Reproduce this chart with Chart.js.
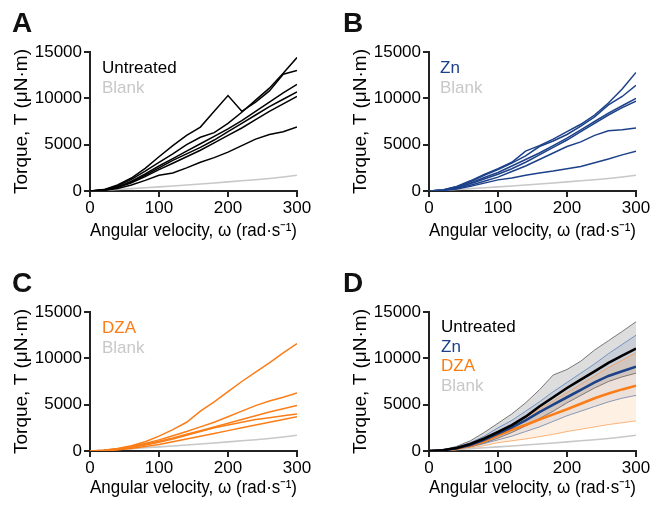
<!DOCTYPE html>
<html>
<head>
<meta charset="utf-8">
<script src="https://cdn.jsdelivr.net/npm/chart.js@4/dist/chart.umd.min.js"></script>
<style>
  body { margin: 0; background: #fff; }
  #wrap { position: relative; width: 652px; height: 510px; overflow: hidden; }
  canvas { position: absolute; }
  .pl { position: absolute; font: bold 28px/28px 'Liberation Sans', Arial, sans-serif; color: #111; }
  .lg { position: absolute; font: 17px/19.5px 'Liberation Sans', Arial, sans-serif; color: #000; }
  .bl { color: #c8c8c8; }
</style>
</head>
<body>
<div id="wrap">
  <canvas id="chartA" width="313" height="250" style="left:0;top:0"></canvas>
  <canvas id="chartB" width="313" height="250" style="left:339px;top:0"></canvas>
  <canvas id="chartC" width="313" height="250" style="left:0;top:260px"></canvas>
  <canvas id="chartD" width="313" height="250" style="left:339px;top:260px"></canvas>

  <div class="pl" style="left:12px;top:9px">A</div>
  <div class="pl" style="left:343px;top:9px">B</div>
  <div class="pl" style="left:12px;top:269px">C</div>
  <div class="pl" style="left:343px;top:269px">D</div>

  <div class="lg" style="left:102px;top:58px"><div>Untreated</div><div class="bl">Blank</div></div>
  <div class="lg" style="left:440px;top:58px"><div style="color:#1c4189">Zn</div><div class="bl">Blank</div></div>
  <div class="lg" style="left:102px;top:318px"><div style="color:#fb7d17">DZA</div><div class="bl">Blank</div></div>
  <div class="lg" style="left:441px;top:317px"><div>Untreated</div><div style="color:#1c4189">Zn</div><div style="color:#fb7d17">DZA</div><div class="bl">Blank</div></div>
</div>

<script>
// 角速度 (rad/s)
const omega = [0, 20, 40, 60, 80, 100, 120, 140, 160, 180, 200, 220, 240, 260, 280, 300];
const xTicks = [0, 100, 200, 300];
const yTicks = [0, 5000, 10000, 15000];

// ブランク
const blank = [0, 80, 170, 260, 350, 440, 540, 640, 750, 860, 980, 1100, 1220, 1350, 1510, 1700];

// A: 未処理
const untreatedRuns = [
    [0, 150, 650, 1400, 2450, 3700, 4900, 6000, 6900, 8600, 10300, 8600, 9600, 10800, 12600, 13000],
    [0, 120, 550, 1250, 2150, 3100, 4000, 5000, 5800, 6300, 7300, 8500, 9800, 11100, 12700, 14400],
    [0, 100, 450, 1050, 1850, 2700, 3500, 4300, 5100, 5900, 6700, 7600, 8600, 9600, 10600, 11500],
    [0, 90, 420, 950, 1700, 2500, 3300, 4000, 4700, 5500, 6400, 7300, 8200, 9100, 9900, 10700],
    [0, 80, 380, 880, 1550, 2300, 3000, 3700, 4400, 5200, 6000, 6800, 7700, 8600, 9400, 10200],
    [0, 60, 280, 650, 1150, 1700, 1950, 2500, 3100, 3600, 4200, 4900, 5600, 6100, 6400, 6900]
];

// B: Zn
const znRuns = [
    [0, 120, 500, 1100, 1800, 2400, 3100, 4300, 4900, 5600, 6400, 7200, 8200, 9500, 11000, 12800],
    [0, 110, 450, 1000, 1700, 2300, 3000, 3800, 4800, 5400, 6100, 7000, 8000, 9300, 10200, 11400],
    [0, 90, 380, 850, 1450, 2000, 2700, 3400, 4100, 4900, 5700, 6600, 7500, 8400, 9200, 10000],
    [0, 80, 340, 780, 1300, 1800, 2400, 3100, 3900, 4700, 5500, 6400, 7300, 8200, 9000, 9700],
    [0, 70, 280, 620, 1050, 1500, 2100, 2700, 3400, 4100, 4800, 5300, 6000, 6500, 6600, 6800],
    [0, 60, 220, 500, 850, 1200, 1400, 1700, 1950, 2150, 2400, 2650, 3050, 3450, 3900, 4300]
];

// C: DZA
const dzaRuns = [
    [0, 80, 260, 560, 1000, 1600, 2300, 3100, 4300, 5300, 6400, 7500, 8500, 9500, 10600, 11600],
    [0, 70, 230, 480, 800, 1200, 1650, 2100, 2600, 3100, 3700, 4300, 4900, 5400, 5800, 6250],
    [0, 60, 200, 420, 700, 1050, 1400, 1800, 2200, 2600, 3000, 3400, 3800, 4200, 4550, 4900],
    [0, 50, 180, 380, 650, 950, 1300, 1700, 2100, 2500, 2800, 3100, 3400, 3600, 3800, 4000],
    [0, 40, 130, 280, 480, 700, 1000, 1300, 1600, 1900, 2200, 2500, 2800, 3100, 3400, 3700]
];

// D: 平均値と範囲
const untreatedMean = [0, 80, 330, 750, 1350, 2050, 2800, 3700, 4800, 5800, 6800, 7700, 8600, 9500, 10300, 11050];
const untreatedHigh = [0, 120, 500, 1100, 2000, 3000, 4000, 5200, 6600, 8200, 8800, 9700, 10900, 11900, 12900, 13950];
const untreatedLow = [0, 50, 200, 450, 850, 1400, 2000, 2700, 3500, 4300, 5200, 6000, 6800, 7500, 8000, 8400];
const znMean = [0, 70, 290, 650, 1200, 1870, 2550, 3300, 4200, 5000, 5800, 6600, 7400, 8100, 8600, 9100];
const znHigh = [0, 90, 400, 900, 1600, 2500, 3300, 4300, 5300, 6400, 7400, 8400, 9400, 10500, 11500, 12500];
const znLow = [0, 50, 200, 450, 800, 1200, 1600, 2100, 2600, 3200, 3800, 4300, 4800, 5300, 5700, 6000];
const dzaMean = [0, 60, 250, 550, 1050, 1700, 2300, 2800, 3400, 3950, 4500, 5100, 5700, 6200, 6650, 7050];
const dzaHigh = [0, 80, 300, 700, 1300, 2000, 2800, 3600, 4500, 5400, 6300, 7200, 8100, 9000, 9800, 10600];
const dzaLow = [0, 40, 150, 330, 580, 900, 1100, 1300, 1550, 1800, 2100, 2350, 2600, 2850, 3050, 3250];

const BLACK = '#000000';
const NAVY = '#1c4189';
const ORANGE = '#fb7d17';
const GREY = '#c8c8c8';
const FONT = "'Liberation Sans', Arial, Helvetica, sans-serif";

Chart.defaults.font.family = FONT;
Chart.defaults.color = '#000';

function pts(ys) {
    return omega.map((x, i) => ({ x: x, y: ys[i] }));
}

function line(ys, color, width) {
    return { data: pts(ys), borderColor: color, borderWidth: width, fill: false };
}

function blankLine() {
    return line(blank, GREY, 1.6);
}

function makeChart(id, datasets, titlePad) {
    const axisGrid = { drawOnChartArea: false, drawTicks: true, tickLength: 6, color: '#222', lineWidth: 2 };
    new Chart(document.getElementById(id), {
        type: 'line',
        data: { datasets: datasets },
        options: {
            responsive: false,
            animation: false,
            layout: { padding: { top: 52, right: 16, left: 0, bottom: 0 } },
            plugins: { legend: { display: false }, tooltip: { enabled: false } },
            elements: { point: { radius: 0 }, line: { tension: 0 } },
            scales: {
                x: {
                    type: 'linear', min: 0, max: 300,
                    afterBuildTicks: s => { s.ticks = xTicks.map(v => ({ value: v })); },
                    afterFit: s => { s.height = 59; },
                    ticks: { color: '#000', font: { size: 17 }, padding: 1, maxRotation: 0, callback: v => String(v) },
                    grid: axisGrid,
                    border: { color: '#222', width: 2 },
                    title: { display: true, text: 'Angular velocity, \u03c9 (rad\u00b7s\u207b\u00b9)', color: '#000', font: { size: 19 }, padding: { top: 0, bottom: titlePad } }
                },
                y: {
                    min: 0, max: 15000,
                    afterBuildTicks: s => { s.ticks = yTicks.map(v => ({ value: v })); },
                    afterFit: s => { s.width = 90; },
                    ticks: { color: '#000', font: { size: 17 }, padding: 2, callback: v => String(v) },
                    grid: axisGrid,
                    border: { color: '#222', width: 2 },
                    title: { display: true, text: 'Torque, \u03a4 (\u03bcN\u00b7m)', color: '#000', font: { size: 19 }, padding: { top: 10, bottom: 0 } }
                }
            }
        }
    });
}

// パネルA〜C
makeChart('chartA', untreatedRuns.map(r => line(r, BLACK, 1.5)).concat([blankLine()]), 8);
makeChart('chartB', znRuns.map(r => line(r, NAVY, 1.5)).concat([blankLine()]), 8);
makeChart('chartC', dzaRuns.map(r => line(r, ORANGE, 1.5)).concat([blankLine()]), 11);

// パネルD (先頭のデータセットが最前面)
makeChart('chartD', [
    line(untreatedMean, BLACK, 2.6),
    line(znMean, NAVY, 2.6),
    line(dzaMean, ORANGE, 2.6),
    blankLine(),
    line(dzaLow, 'rgba(251,150,70,0.7)', 1),
    { data: pts(dzaHigh), borderColor: 'rgba(251,150,70,0.7)', borderWidth: 1, fill: { target: 4 }, backgroundColor: 'rgba(251,140,40,0.13)' },
    line(znLow, 'rgba(90,130,190,0.8)', 1),
    { data: pts(znHigh), borderColor: 'rgba(90,130,190,0.8)', borderWidth: 1, fill: { target: 6 }, backgroundColor: 'rgba(40,80,160,0.10)' },
    line(untreatedLow, 'rgba(90,90,90,0.8)', 1),
    { data: pts(untreatedHigh), borderColor: 'rgba(90,90,90,0.8)', borderWidth: 1, fill: { target: 8 }, backgroundColor: 'rgba(120,120,120,0.25)' }
], 11);
</script>
</body>
</html>
